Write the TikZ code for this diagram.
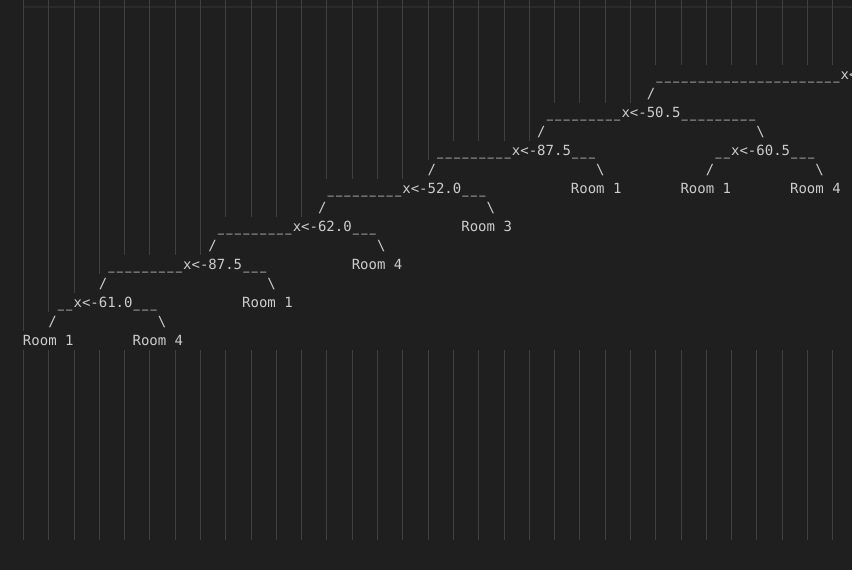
\documentclass[tikz,border=0pt]{standalone}
\usepackage{graphicx}
\usepackage{fontspec}
\setmonofont{DejaVu Sans Mono}
\definecolor{editorbg}{HTML}{1F1F1F}
\definecolor{guide}{HTML}{404040}
\definecolor{ink}{HTML}{CCCCCC}
\definecolor{topline}{HTML}{2B2B2B}

% place a text run at a character column / text row of the editor grid
\newcommand\putcell[4]{\node[txt] (#1) at ({\ox+#2*\cw},{79.4+19*(#3-1)}) {#4};}
% one underscore cell, slightly narrower than the cell so runs stay dashed
\newcommand\us{\makebox[8.43pt][c]{\raisebox{0.8pt}{\scalebox{0.74}[1.35]{\_}}}}
\newcommand\usn[1]{\foreach \k in {1,...,#1}{\us}}

\begin{document}
\begin{tikzpicture}[x=1pt,y=-1pt,
  txt/.style={anchor=base west, inner sep=0pt, outer sep=0pt, text=ink,
              font=\ttfamily\fontsize{14}{19}\selectfont},
  guideline/.style={draw=guide, line width=1pt}]
\def\cw{8.43}
\def\ox{23}
\fill[editorbg] (0,0) rectangle (852,570);
\useasboundingbox (0,0) rectangle (852,570);
\clip (0,0) rectangle (852,570);

% thin rule across the top
\fill[topline] (24,5.5) rectangle (852,7.5);

% indent guides: upper part stops where each column meets text
\foreach \c/\e in {0/331, 3/312, 6/293, 9/274,
                   12/255, 15/255, 18/255, 21/255,
                   24/217, 27/217, 30/217, 33/217,
                   36/179, 39/179, 42/179, 45/179,
                   48/160,
                   51/141, 54/141, 57/141, 60/141,
                   63/103, 66/103, 69/103, 72/103,
                   75/65, 78/65, 81/65, 84/65, 87/65, 90/65, 93/65, 96/65}
  \draw[guideline] ({\ox+\c*\cw+0.5},0) -- ({\ox+\c*\cw+0.5},\e);
% indent guides below the tree
\foreach \c in {0,3,...,96}
  \draw[guideline] ({\ox+\c*\cw+0.5},350) -- ({\ox+\c*\cw+0.5},540);

% tree rows
\putcell{r1a}{75}{1}{\usn{22}x<}
\putcell{r2a}{74}{2}{/}
\putcell{r3a}{62}{3}{\usn{9}x<-50.5\usn{9}}
\putcell{r4a}{61}{4}{/}
\putcell{r4b}{87}{4}{\textbackslash}
\putcell{r5a}{49}{5}{\usn{9}x<-87.5\usn{3}}
\putcell{r5b}{82}{5}{\usn{2}x<-60.5\usn{3}}
\putcell{r6a}{48}{6}{/}
\putcell{r6b}{68}{6}{\textbackslash}
\putcell{r6c}{81}{6}{/}
\putcell{r6d}{94}{6}{\textbackslash}
\putcell{r7a}{36}{7}{\usn{9}x<-52.0\usn{3}}
\putcell{r7b}{65}{7}{Room 1}
\putcell{r7c}{78}{7}{Room 1}
\putcell{r7d}{91}{7}{Room 4}
\putcell{r8a}{35}{8}{/}
\putcell{r8b}{55}{8}{\textbackslash}
\putcell{r9a}{23}{9}{\usn{9}x<-62.0\usn{3}}
\putcell{r9b}{52}{9}{Room 3}
\putcell{r10a}{22}{10}{/}
\putcell{r10b}{42}{10}{\textbackslash}
\putcell{r11a}{10}{11}{\usn{9}x<-87.5\usn{3}}
\putcell{r11b}{39}{11}{Room 4}
\putcell{r12a}{9}{12}{/}
\putcell{r12b}{29}{12}{\textbackslash}
\putcell{r13a}{4}{13}{\usn{2}x<-61.0\usn{3}}
\putcell{r13b}{26}{13}{Room 1}
\putcell{r14a}{3}{14}{/}
\putcell{r14b}{16}{14}{\textbackslash}
\putcell{r15a}{0}{15}{Room 1}
\putcell{r15b}{13}{15}{Room 4}
\end{tikzpicture}
\end{document}
